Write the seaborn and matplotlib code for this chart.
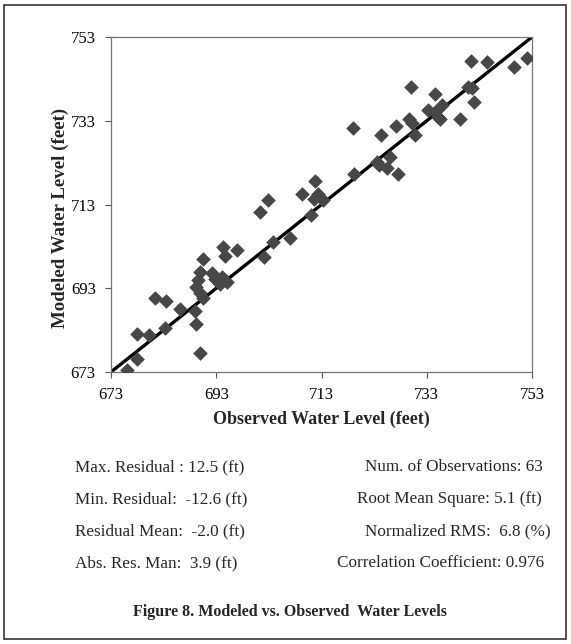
import matplotlib.pyplot as plt
import matplotlib.patches as patches
import numpy as np
import pandas as pd
import seaborn as sns

# observed vs modeled water levels (feet)
observed = [676.0, 677.9, 677.9, 680.3, 681.4, 683.4, 683.3, 686.1, 689.0, 689.1,
            690.0, 690.4, 690.0, 689.6, 689.2, 689.9, 690.4, 692.1, 692.8, 694.0,
            695.0, 694.2, 694.7, 696.9, 702.0, 703.7, 707.0, 701.3, 702.8, 709.3,
            711.8, 712.4, 711.5, 713.2, 711.0, 719.1, 718.9, 724.3, 727.2, 729.7,
            730.2, 730.8, 723.6, 724.0, 726.0, 725.4, 727.6, 733.3, 734.6, 735.5,
            735.9, 741.4, 744.4, 749.6, 752.1, 734.6, 740.9, 741.6, 741.9, 739.3,
            735.2, 730.0, 693.8]
modeled = [673.5, 676.0, 682.1, 681.8, 690.6, 690.0, 683.4, 688.0, 687.6, 684.4,
           677.5, 700.0, 696.9, 695.0, 693.2, 691.8, 690.6, 696.7, 695.3, 695.7,
           694.5, 702.8, 700.7, 702.1, 700.5, 704.1, 705.1, 711.3, 714.1, 715.6,
           718.6, 715.6, 714.4, 714.1, 710.5, 720.4, 731.2, 729.7, 731.7, 733.4,
           732.5, 729.6, 723.2, 722.4, 724.3, 721.6, 720.3, 735.5, 735.1, 733.5,
           736.7, 747.3, 747.1, 745.9, 748.1, 739.3, 741.1, 740.9, 737.5, 733.5,
           733.9, 741.1, 694.0]
one_to_one = [673, 753]
ticks = [673, 693, 713, 733, 753]

stats_left = ["Max. Residual : 12.5 (ft)", "Min. Residual:  -12.6 (ft)",
              "Residual Mean:  -2.0 (ft)", "Abs. Res. Man:  3.9 (ft)"]
stats_right = ["Num. of Observations: 63", "Root Mean Square: 5.1 (ft)",
               "Normalized RMS:  6.8 (%)", "Correlation Coefficient: 0.976"]
caption = "Figure 8. Modeled vs. Observed  Water Levels"

sns.set_style("white")
plt.rcParams['font.family'] = ['Liberation Serif', 'DejaVu Serif']

df = pd.DataFrame({"observed": observed, "modeled": modeled})

fig = plt.figure(figsize=(5.71, 6.44), dpi=100)
ax = fig.add_axes([0.1944, 0.4224, 0.7373, 0.5201])

sns.lineplot(x=one_to_one, y=one_to_one, color='black', linewidth=2.4, ax=ax)
sns.scatterplot(data=df, x="observed", y="modeled", marker="D", s=48,
                color="#474747", edgecolor="#474747", linewidth=0.5, ax=ax, zorder=3)

ax.set_xlim(673, 753)
ax.set_ylim(673, 753)
ax.set_xticks(ticks)
ax.set_yticks(ticks)
ax.tick_params(axis='both', direction='out', length=4, width=0.8, colors='#555555',
               labelcolor='black', labelsize=12, bottom=True, left=True)
ax.tick_params(axis='x', pad=6.5)
ax.tick_params(axis='y', pad=7)
for sp in ax.spines.values():
    sp.set_color('#777777')
    sp.set_linewidth(0.9)
ax.set_xlabel("Observed Water Level (feet)", fontsize=13, fontweight='bold', labelpad=5.5)
ax.set_ylabel("Modeled Water Level (feet)", fontsize=13.6, fontweight='bold')
ax.yaxis.set_label_coords(-0.1, 0.46)

# statistics block
rows_y = [467, 499, 531, 563]
right_x = [365, 357, 365, 337]
for i, y in enumerate(rows_y):
    fig.text(75 / 571, 1 - y / 644, stats_left[i], fontsize=12.3, va='center', ha='left')
    fig.text(right_x[i] / 571, 1 - y / 644, stats_right[i], fontsize=12.3, va='center', ha='left')

fig.text(290 / 571, 1 - 612 / 644, caption, fontsize=11.5, fontweight='bold',
         ha='center', va='center')

# outer frame
frame = patches.Rectangle((4 / 571, 5 / 644), 562 / 571, 634 / 644, transform=fig.transFigure,
                          fill=False, edgecolor='#333333', linewidth=1.2)
fig.patches.append(frame)

plt.savefig("out.png", dpi=100)
